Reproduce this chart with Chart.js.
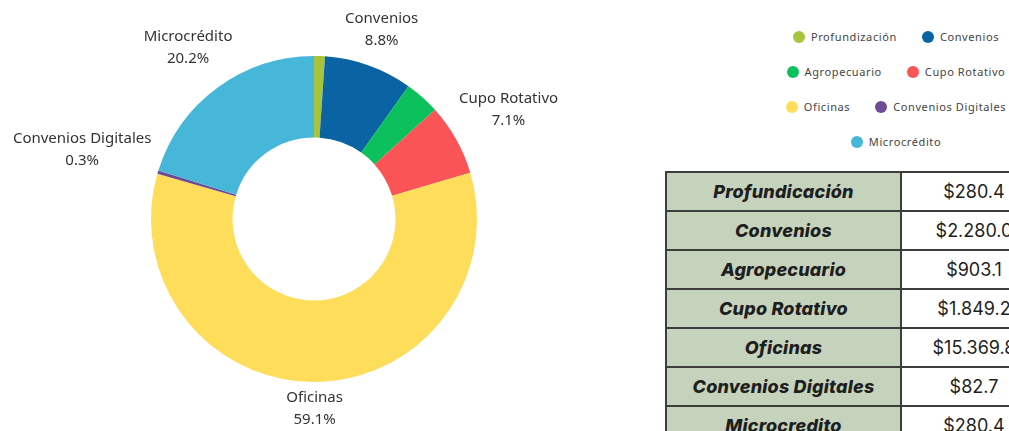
<!DOCTYPE html>
<html>
<head>
<meta charset="utf-8">
<script src="https://cdn.jsdelivr.net/npm/chart.js@4"></script>
<style>
html, body { margin: 0; padding: 0; width: 1009px; height: 431px; overflow: hidden; background: #fff; position: relative; }
#chartBox { position: absolute; left: 0; top: 0; width: 628px; height: 431px; }
#legend { position: absolute; left: 781px; top: 19px; width: 230px; display: flex; flex-wrap: wrap;
  justify-content: center; column-gap: 25px; font-family: "Noto Sans", sans-serif; font-size: 11px;
  letter-spacing: 0.6px; color: #444; }
#legend .item { display: flex; align-items: center; height: 35px; white-space: nowrap; }
#legend .dot { width: 12px; height: 12px; border-radius: 50%; margin-right: 6px; }
#tbl { position: absolute; left: 665px; top: 171px; width: 437px; table-layout: fixed; border-collapse: collapse;
  font-family: Inter, sans-serif; font-size: 18px; color: #1e1e1e; }
#tbl td { border: 2px solid #3d3d3d; height: 39px; padding: 0; text-align: center; box-sizing: border-box; }
#tbl td.name { width: 235px; background: #c6d3bc; font-weight: 800; font-style: italic; letter-spacing: 0.2px; }
#tbl td.val { width: 202px; }
#tbl .pad { display: inline-block; width: 56px; }
</style>
</head>
<body>
<div id="chartBox"><canvas id="graph1"></canvas></div>
<div id="legend"></div>
<table id="tbl"></table>
<script>
var labels = ['Profundización', 'Convenios', 'Agropecuario', 'Cupo Rotativo', 'Oficinas', 'Convenios Digitales', 'Microcrédito'];
var values = [280.4, 2280.0, 903.1, 1849.2, 15369.8, 82.7, 5256.4];
var colors = ['#a8c43c', '#0a64a4', '#0cc15c', '#fb5457', '#fddd5a', '#6f4a96', '#46b7d8'];
var showLabel = [false, true, false, true, true, true, true];

var tableNames = ['Profundicación', 'Convenios', 'Agropecuario', 'Cupo Rotativo', 'Oficinas', 'Convenios Digitales', 'Microcredito'];
var tableValues = ['$280.4', '$2.280.0', '$903.1', '$1.849.2', '$15.369.8', '$82.7', '$280.4'];

// etiquetas fuera del anillo
var lineH = 22;
var outsideLabels = {
    id: 'outsideLabels',
    afterDatasetsDraw(chart) {
        var ctx = chart.ctx;
        var meta = chart.getDatasetMeta(0);
        var total = values.reduce((a, b) => a + b, 0);
        ctx.save();
        ctx.font = '15px "Noto Sans"';
        ctx.fillStyle = '#333';
        ctx.textAlign = 'center';
        ctx.textBaseline = 'middle';
        meta.data.forEach((arc, i) => {
            if (!showLabel[i]) return;
            var p = arc.getProps(['x', 'y', 'startAngle', 'endAngle', 'outerRadius'], true);
            var mid = (p.startAngle + p.endAngle) / 2;
            var cos = Math.cos(mid), sin = Math.sin(mid);
            var lines = [labels[i], (values[i] / total * 100).toFixed(1) + '%'];
            var w = Math.max(...lines.map(t => ctx.measureText(t).width));
            var d = p.outerRadius + 7 + Math.abs(cos) * w / 2 + Math.abs(sin) * 20;
            var cx = p.x + cos * d, cy = p.y + sin * d;
            ctx.fillText(lines[0], cx, cy - lineH / 2);
            ctx.fillText(lines[1], cx, cy + lineH / 2);
        });
        ctx.restore();
    }
};

var ctx = document.getElementById('graph1').getContext('2d');
var config = {
    type: 'doughnut',
    data: {
        labels: labels,
        datasets: [{ data: values, backgroundColor: colors, borderWidth: 0 }]
    },
    options: {
        responsive: true,
        maintainAspectRatio: false,
        animation: false,
        cutout: '50%',
        layout: { padding: { top: 56, bottom: 49, left: 0, right: 0 } },
        plugins: { legend: { display: false }, tooltip: { enabled: false } }
    },
    plugins: [outsideLabels]
};
var graph1 = new Chart(ctx, config);

// leyenda
var legend = document.getElementById('legend');
labels.forEach((l, i) => {
    var item = document.createElement('div');
    item.className = 'item';
    item.innerHTML = '<span class="dot" style="background:' + colors[i] + '"></span><span>' + l + '</span>';
    legend.appendChild(item);
});

// tabla
var tbl = document.getElementById('tbl');
tableNames.forEach((n, i) => {
    var tr = document.createElement('tr');
    tr.innerHTML = '<td class="name">' + n + '</td><td class="val">' + tableValues[i] + '<span class="pad"></span></td>';
    tbl.appendChild(tr);
});
</script>
</body>
</html>
